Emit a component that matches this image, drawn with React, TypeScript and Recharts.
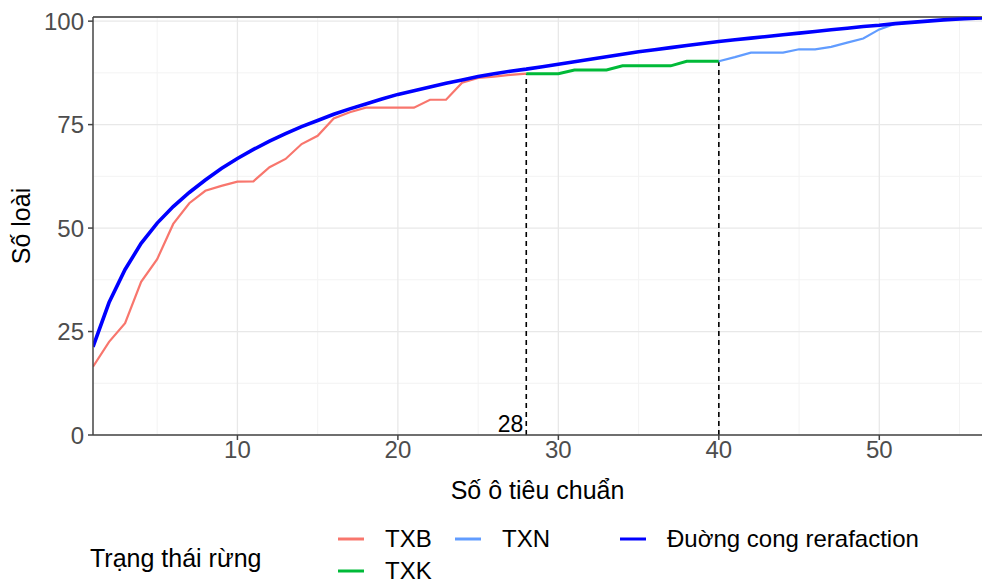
import React from 'react';
import { LineChart, Line, XAxis, YAxis, CartesianGrid, ReferenceLine } from 'recharts';

const FONT = '"Liberation Sans", Arial, sans-serif';

// Number of sample plots (x)
const plotCounts = [
  1, 2, 3, 4, 5, 6, 7, 8, 9, 10, 11, 12, 13, 14, 15, 16, 17, 18, 19, 20,
  21, 22, 23, 24, 25, 26, 27, 28, 29, 30, 31, 32, 33, 34, 35, 36, 37, 38, 39, 40,
  41, 42, 43, 44, 45, 46, 47, 48, 49, 50, 51, 52, 53, 54, 55, 56, 57,
];

// Rarefaction curve (plots 1..57)
const rarefaction = [
  21.3, 32.0, 40.0, 46.3, 51.2, 55.2, 58.6, 61.6, 64.4, 66.8,
  69.0, 71.0, 72.8, 74.5, 76.0, 77.5, 78.8, 80.0, 81.2, 82.3,
  83.2, 84.1, 85.0, 85.8, 86.6, 87.3, 87.9, 88.4, 89.0, 89.6,
  90.2, 90.8, 91.4, 92.0, 92.6, 93.1, 93.6, 94.1, 94.6, 95.1,
  95.5, 95.9, 96.3, 96.7, 97.1, 97.5, 97.9, 98.3, 98.7, 99.0,
  99.4, 99.7, 100.0, 100.3, 100.5, 100.7, 100.9,
];

// TXB: plots 1..28
const txbStart = 1;
const txbValues = [
  16.5, 22.5, 27.0, 37.0, 42.5, 51.0, 56.0, 59.0, 60.2, 61.2,
  61.3, 64.7, 66.7, 70.3, 72.3, 76.5, 78.0, 79.1, 79.1, 79.1,
  79.1, 81.0, 81.0, 85.1, 86.3, 86.6, 87.0, 87.3,
];

// TXK: plots 28..40
const txkStart = 28;
const txkValues = [87.3, 87.3, 87.3, 88.2, 88.2, 88.2, 89.2, 89.2, 89.2, 89.2, 90.3, 90.3, 90.3];

// TXN: plots 40..57
const txnStart = 40;
const txnValues = [
  90.3, 91.3, 92.4, 92.4, 92.4, 93.2, 93.2, 93.8, 94.8, 95.8,
  98.0, 99.4, 99.7, 100.0, 100.3, 100.5, 100.7, 100.9,
];

const xTicks = [10, 20, 30, 40, 50];
const yTicks = [0, 25, 50, 75, 100];
const xMinor = [5, 15, 25, 35, 45, 55];
const yMinor = [12.5, 37.5, 62.5, 87.5];
const cutoffs = [28, 40];
const cutoffLabel = '28';

const colors = { txb: '#F8766D', txk: '#00BA38', txn: '#619CFF', rare: '#0000FF' };

const legendTitle = 'Trạng thái rừng';
const legendItems = [
  { key: 'txb', label: 'TXB', kx: 338, ky: 539 },
  { key: 'txn', label: 'TXN', kx: 455, ky: 539 },
  { key: 'rare', label: 'Đuờng cong rerafaction', kx: 620, ky: 539 },
  { key: 'txk', label: 'TXK', kx: 338, ky: 571 },
];

const pick = (arr: number[], start: number, n: number) => {
  const i = n - start;
  return i >= 0 && i < arr.length ? arr[i] : null;
};

const data = plotCounts.map((n, i) => ({
  n,
  rare: rarefaction[i],
  txb: pick(txbValues, txbStart, n),
  txk: pick(txkValues, txkStart, n),
  txn: pick(txnValues, txnStart, n),
}));

const cutoffY = (x: number) => {
  const v = pick(txkValues, txkStart, x);
  return v == null ? 0 : v;
};

export default function App() {
  return (
    <div style={{ position: 'absolute', left: 0, top: 0, width: 982, height: 583, background: '#fff' }}>
      <LineChart
        width={982}
        height={583}
        data={data}
        margin={{ top: 17, right: 0, left: 0, bottom: 0 }}
      >
        <CartesianGrid stroke="#F3F3F3" strokeWidth={1} verticalValues={xMinor} horizontalValues={yMinor} />
        <CartesianGrid stroke="#E8E8E8" strokeWidth={1.3} verticalValues={xTicks} horizontalValues={yTicks} />
        <XAxis
          type="number"
          dataKey="n"
          domain={[1, 56.4]}
          allowDataOverflow
          ticks={xTicks}
          interval={0}
          height={148}
          tickSize={5}
          tickMargin={1}
          stroke="#444"
          strokeWidth={1.5}
          tick={{ fill: '#4D4D4D', fontSize: 24, fontFamily: FONT }}
          label={(props: any) => {
            const vb = props.viewBox || {};
            return (
              <text
                x={vb.x + vb.width / 2}
                y={vb.y + 64}
                textAnchor="middle"
                fontSize={25}
                fontFamily={FONT}
                fill="#000"
              >
                Số ô tiêu chuẩn
              </text>
            );
          }}
        />
        <YAxis
          type="number"
          domain={[0, 101]}
          allowDataOverflow
          ticks={yTicks}
          interval={0}
          width={93}
          tickSize={5}
          tickMargin={4}
          stroke="#444"
          strokeWidth={1.5}
          tick={{ fill: '#4D4D4D', fontSize: 24, fontFamily: FONT }}
          label={(props: any) => {
            const vb = props.viewBox || {};
            const cx = vb.x + 30;
            const cy = vb.y + vb.height / 2;
            return (
              <text
                x={cx}
                y={cy}
                transform={`rotate(-90 ${cx} ${cy})`}
                textAnchor="middle"
                fontSize={25}
                fontFamily={FONT}
                fill="#000"
              >
                Số loài
              </text>
            );
          }}
        />
        <ReferenceLine y={101} stroke="#666" strokeWidth={2} />
        {cutoffs.map((c, idx) => (
          <ReferenceLine
            key={c}
            segment={[{ x: c, y: 0 }, { x: c, y: cutoffY(c) }]}
            stroke="#000"
            strokeWidth={1.6}
            strokeDasharray="5 4"
            label={
              idx === 0
                ? (props: any) => {
                    const vb = props.viewBox || {};
                    return (
                      <text
                        x={vb.x - 3}
                        y={vb.y + vb.height - 3}
                        textAnchor="end"
                        fontSize={23}
                        fontFamily={FONT}
                        fill="#000"
                      >
                        {cutoffLabel}
                      </text>
                    );
                  }
                : undefined
            }
          />
        ))}
        <Line type="linear" dataKey="txb" stroke={colors.txb} strokeWidth={2.2} dot={false} isAnimationActive={false} connectNulls={false} />
        <Line type="linear" dataKey="txk" stroke={colors.txk} strokeWidth={3} dot={false} isAnimationActive={false} connectNulls={false} />
        <Line type="linear" dataKey="txn" stroke={colors.txn} strokeWidth={2.2} dot={false} isAnimationActive={false} connectNulls={false} />
        <Line type="linear" dataKey="rare" stroke={colors.rare} strokeWidth={3.6} dot={false} isAnimationActive={false} />
      </LineChart>
      <svg
        width={982}
        height={583}
        style={{ position: 'absolute', left: 0, top: 0, pointerEvents: 'none' }}
      >
        <text x={90} y={567} fontSize={25} fontFamily={FONT} fill="#000">
          {legendTitle}
        </text>
        {legendItems.map((it) => (
          <g key={it.key}>
            <line
              x1={it.kx}
              x2={it.kx + 26}
              y1={it.ky}
              y2={it.ky}
              stroke={(colors as any)[it.key]}
              strokeWidth={3}
            />
            <text x={it.kx + 47} y={it.ky + 8} fontSize={24} fontFamily={FONT} fill="#000">
              {it.label}
            </text>
          </g>
        ))}
      </svg>
    </div>
  );
}
